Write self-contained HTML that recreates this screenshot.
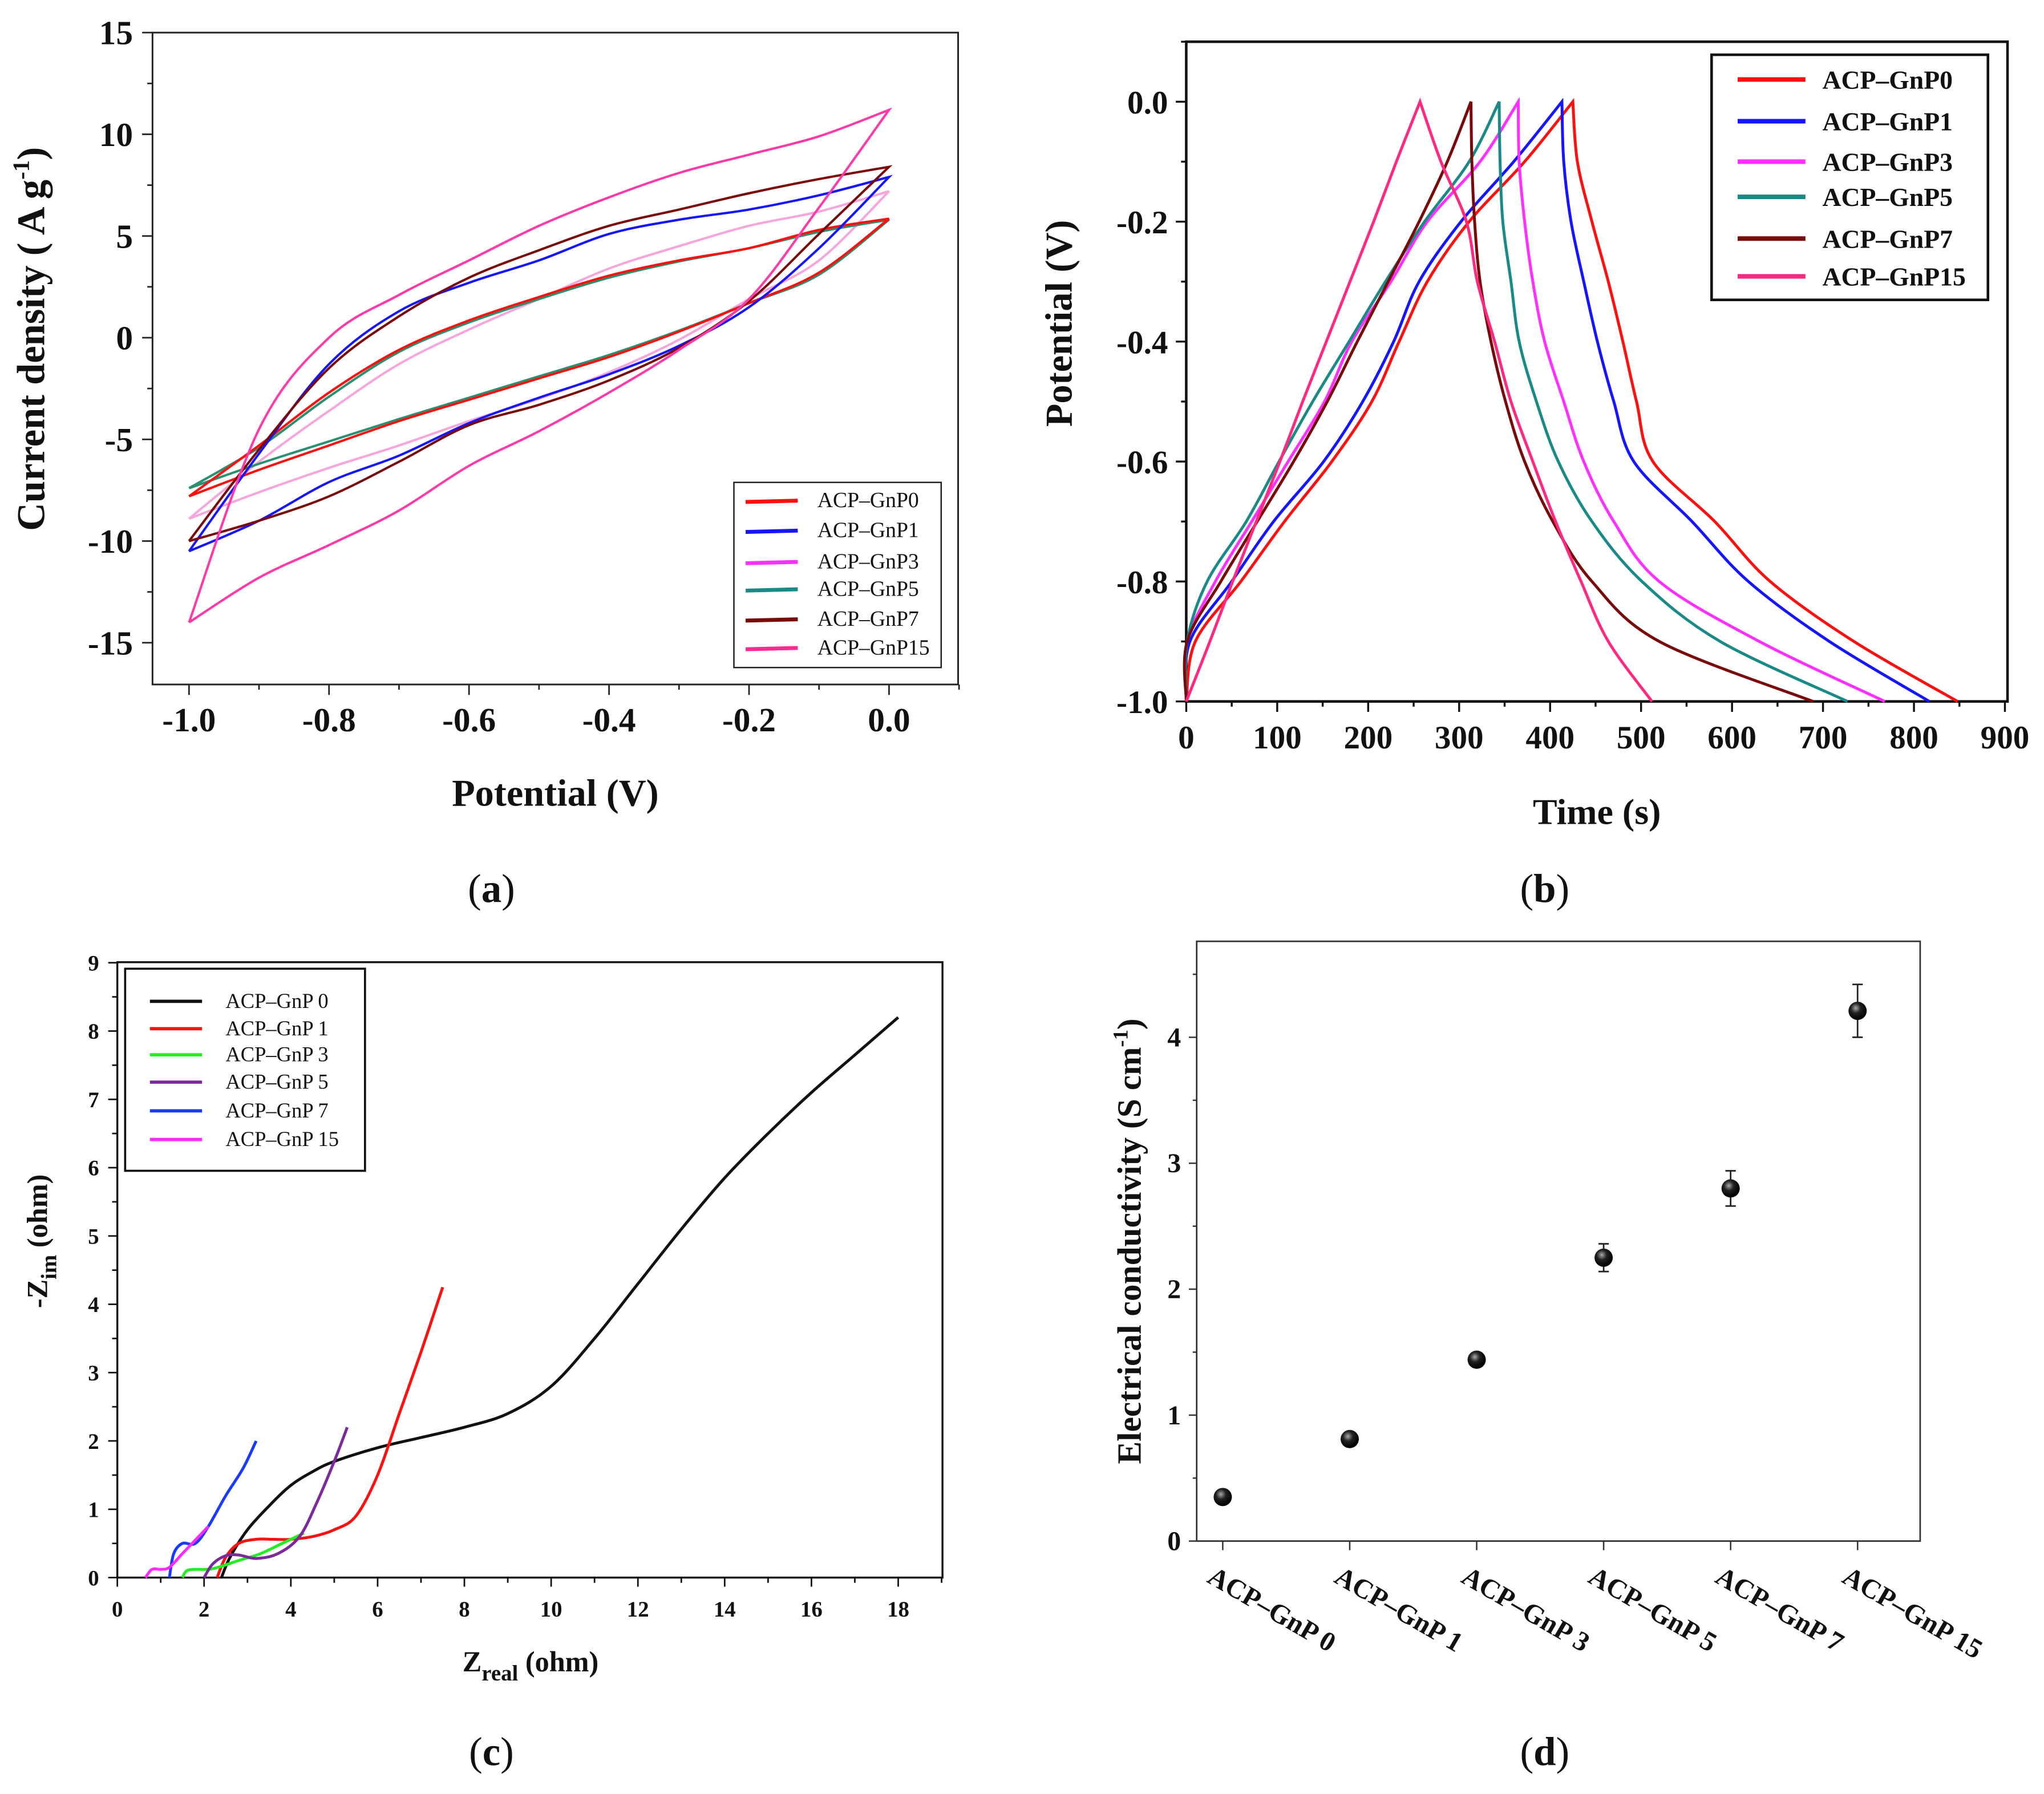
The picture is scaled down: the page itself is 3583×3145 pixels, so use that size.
<!DOCTYPE html>
<html><head><meta charset="utf-8"><style>
html,body{margin:0;padding:0;background:#fff}
svg{display:block}
text{font-family:"Liberation Serif",serif;fill:#111}
</style></head><body>
<svg id="fig" width="3583" height="3145" viewBox="0 0 1568 1376" preserveAspectRatio="none" xmlns="http://www.w3.org/2000/svg">
<rect width="1568" height="1376" fill="#fff"/>
<g id="pa"></g>
<g id="pb"></g>
<g id="pc"></g>
<g id="pd"></g>
<text x="377" y="692" font-size="31" text-anchor="middle">(<tspan font-weight="bold">a</tspan>)</text>
<text x="1185" y="692" font-size="31" text-anchor="middle">(<tspan font-weight="bold">b</tspan>)</text>
<text x="377" y="1354" font-size="31" text-anchor="middle">(<tspan font-weight="bold">c</tspan>)</text>
<text x="1185" y="1354" font-size="31" text-anchor="middle">(<tspan font-weight="bold">d</tspan>)</text>
</svg>
<script>
// ---------- Panel (a) CV data ----------
const cvPotential = [-1,-0.9,-0.8,-0.7,-0.6,-0.5,-0.4,-0.3,-0.2,-0.1,0];
const cvNames = ["ACP\u2013GnP0","ACP\u2013GnP1","ACP\u2013GnP3","ACP\u2013GnP5","ACP\u2013GnP7","ACP\u2013GnP15"];
const cvGnP0Up = [-7.8,-5.3,-2.7,-0.6,0.85,2.0,3.05,3.8,4.4,5.3,5.85];
const cvGnP0Down = [-7.8,-6.5,-5.3,-4.1,-3.05,-2.0,-0.95,0.3,1.7,3.2,5.85];
const cvGnP1Up = [-10.5,-5.7,-1.3,1.3,2.7,3.8,5.1,5.8,6.3,7.0,7.9];
const cvGnP1Down = [-10.5,-9.0,-7.1,-5.8,-4.2,-2.95,-1.8,-0.4,1.5,4.4,7.9];
const cvGnP3Up = [-8.9,-6.1,-3.6,-1.3,0.4,1.9,3.4,4.5,5.5,6.2,7.2];
const cvGnP3Down = [-8.9,-7.6,-6.4,-5.3,-4.1,-3.0,-1.7,-0.1,1.9,3.8,7.2];
const cvGnP5Up = [-7.4,-5.4,-2.9,-0.7,0.75,1.9,2.95,3.75,4.4,5.2,5.8];
const cvGnP5Down = [-7.4,-6.2,-5.1,-4.0,-2.95,-1.9,-0.85,0.35,1.7,3.1,5.8];
const cvGnP7Up = [-10,-5.5,-1.5,1.05,2.95,4.3,5.5,6.3,7.1,7.8,8.4];
const cvGnP7Down = [-10,-9.0,-7.8,-6.1,-4.3,-3.3,-2.1,-0.5,1.8,5.1,8.4];
const cvGnP15Up = [-14.0,-4.5,0.0,2.1,3.8,5.5,6.9,8.1,9.0,9.9,11.2];
const cvGnP15Down = [-14.0,-11.8,-10.2,-8.5,-6.3,-4.6,-2.7,-0.6,1.9,6.4,11.2];
const cvXTicks = [-1.0,-0.8,-0.6,-0.4,-0.2,0.0];
const cvYTicks = [15,10,5,0,-5,-10,-15];

// ---------- Panel (b) GCD data ----------
const gcdLevels = [-1,-0.9,-0.8,-0.7,-0.6,-0.5,-0.4,-0.3,-0.2,-0.1,0];
const gcdNames = ["ACP\u2013GnP0","ACP\u2013GnP1","ACP\u2013GnP3","ACP\u2013GnP5","ACP\u2013GnP7","ACP\u2013GnP15"];
const gcdGnP0Charge = [0,10,60,108,160,204,234,265,311,372,425];
const gcdGnP0Discharge = [848,734,642,581,513,495,480,464,446,430,425];
const gcdGnP1Charge = [0,4,50,96,151,194,228,256,302,360,413];
const gcdGnP1Discharge = [817,707,618,556,492,470,452,437,423,415,413];
const gcdGnP3Charge = [0,1,32,72,112,152,182,225,265,323,365];
const gcdGnP3Discharge = [768,630,520,470,437,415,394,381,372,366,365];
const gcdGnP5Charge = [0,1,23,66,102,139,179,219,262,311,344];
const gcdGnP5Discharge = [727,587,501,446,409,385,366,357,348,345,344];
const gcdGnP7Charge = [0,1,38,78,118,155,188,222,256,287,313];
const gcdGnP7Discharge = [689,520,446,403,372,351,335,323,317,314,313];
const gcdGnP15Charge = [0,26,51,77,103,128,154,180,206,231,257];
const gcdGnP15Discharge = [512,464,434,406,381,357,339,320,308,280,257];
const gcdXTicks = [0,100,200,300,400,500,600,700,800,900];
const gcdYTicks = [0.0,-0.2,-0.4,-0.6,-0.8,-1.0];

// ---------- Panel (c) EIS data ----------
const eisNames = ["ACP\u2013GnP 0","ACP\u2013GnP 1","ACP\u2013GnP 3","ACP\u2013GnP 5","ACP\u2013GnP 7","ACP\u2013GnP 15"];
const eis0Re = [2.4,2.6,3.0,3.5,4,4.5,5,6,7,8,9,10,11,12,13,14,15,16,17,18];
const eis0Im = [0,0.3,0.7,1.05,1.35,1.55,1.7,1.9,2.05,2.2,2.4,2.8,3.5,4.3,5.1,5.85,6.5,7.1,7.65,8.2];
const eis1Re = [2.3,2.5,2.8,3.2,3.6,4.0,4.5,5.0,5.5,6.0,6.5,7.0,7.5];
const eis1Im = [0,0.3,0.5,0.56,0.56,0.56,0.6,0.7,0.9,1.5,2.4,3.3,4.25];
const eis3Re = [1.5,1.6,1.8,2.2,2.8,3.3,3.8,4.3];
const eis3Im = [0,0.1,0.12,0.13,0.25,0.35,0.5,0.65];
const eis5Re = [2.0,2.2,2.5,2.8,3.2,3.7,4.2,4.6,5.0,5.3];
const eis5Im = [0,0.2,0.32,0.33,0.28,0.35,0.6,1.1,1.7,2.2];
const eis7Re = [1.2,1.3,1.5,1.8,2.1,2.5,2.9,3.2];
const eis7Im = [0,0.35,0.5,0.5,0.75,1.2,1.6,2.0];
const eis15Re = [0.65,0.8,1.0,1.2,1.5,1.8,2.1];
const eis15Im = [0,0.12,0.12,0.15,0.35,0.55,0.75];
const eisXTicks = [0,2,4,6,8,10,12,14,16,18];
const eisYTicks = [0,1,2,3,4,5,6,7,8,9];

// ---------- Panel (d) conductivity data ----------
const condCategories = ["ACP\u2013GnP 0","ACP\u2013GnP 1","ACP\u2013GnP 3","ACP\u2013GnP 5","ACP\u2013GnP 7","ACP\u2013GnP 15"];
const condValues = [0.35,0.81,1.44,2.25,2.8,4.21];
const condErrors = [0.03,0.03,0.04,0.11,0.14,0.21];
const condYTicks = [0,1,2,3,4];

const NS="http://www.w3.org/2000/svg";
function mk(parent,tag,attrs,txt){const e=document.createElementNS(NS,tag);for(const k in attrs)e.setAttribute(k,attrs[k]);if(txt!==undefined)e.textContent=txt;parent.appendChild(e);return e;}
function smooth(pts){let d="M"+pts[0][0].toFixed(2)+","+pts[0][1].toFixed(2);for(let i=0;i<pts.length-1;i++){const p0=pts[i-1]||pts[i],p1=pts[i],p2=pts[i+1],p3=pts[i+2]||p2;const c1=[p1[0]+(p2[0]-p0[0])/6,p1[1]+(p2[1]-p0[1])/6],c2=[p2[0]-(p3[0]-p1[0])/6,p2[1]-(p3[1]-p1[1])/6];d+="C"+c1[0].toFixed(2)+","+c1[1].toFixed(2)+" "+c2[0].toFixed(2)+","+c2[1].toFixed(2)+" "+p2[0].toFixed(2)+","+p2[1].toFixed(2);}return d;}

// ===== Panel A =====
(function(){
const g=document.getElementById('pa');
const sx=v=>682+(v-0)*537, sy=v=>259-v*15.6;
const box=mk(g,'rect',{x:117,y:25,width:618,height:500,fill:'none',stroke:'#222','stroke-width':1.3});

for(let v=-1.0;v<=0.101;v+=0.1){const x=sx(v);mk(g,'line',{x1:x,y1:525,x2:x,y2:Math.abs(Math.round(v*10)%2)===0?533:529,stroke:'#222','stroke-width':1.2});}
for(let v=-17.5;v<=15.01;v+=2.5){if(v<-17)continue;const y=sy(v);const major=Math.abs(v%5)<0.01;mk(g,'line',{x1:117,y1:y,x2:major?109:113,y2:y,stroke:'#222','stroke-width':1.2});}
cvXTicks.forEach(v=>{const t=mk(g,'text',{x:sx(v),y:561,'font-size':26,'font-weight':'bold','text-anchor':'middle'},v.toFixed(1));});
cvYTicks.forEach(v=>{const t=mk(g,'text',{x:102,y:sy(v)+9,'font-size':26,'font-weight':'bold','text-anchor':'end'},String(v));});
const yl=mk(g,'text',{x:0,y:0,'font-size':30,'font-weight':'bold','text-anchor':'middle',transform:'translate(34,260) rotate(-90)'});
yl.innerHTML='Current density ( A g<tspan dy="-12" font-size="18">-1</tspan><tspan dy="12">)</tspan>';

const xl=mk(g,'text',{x:426,y:618,'font-size':29,'font-weight':'bold','text-anchor':'middle'},'Potential (V)');

const series=[[cvGnP3Up,cvGnP3Down,'#f6a6da'],[cvGnP5Up,cvGnP5Down,'#2a9070'],[cvGnP0Up,cvGnP0Down,'#ff1010'],[cvGnP1Up,cvGnP1Down,'#1515ff'],[cvGnP7Up,cvGnP7Down,'#7a0a0a'],[cvGnP15Up,cvGnP15Down,'#ff3aa8']];
series.forEach((s,i)=>{const up=cvPotential.map((p,k)=>[sx(p),sy(s[0][k])]);const dn=cvPotential.map((p,k)=>[sx(p),sy(s[1][k])]);
const p=mk(g,'path',{d:smooth(up)+" "+smooth(dn.slice().reverse()).replace('M','L'),fill:'none',stroke:s[2],'stroke-width':1.8});
});
const lg=mk(g,'g',{});
mk(lg,'rect',{x:563,y:370,width:159,height:142,fill:'#fff',stroke:'#222','stroke-width':1.1});
const lc=['#ff1010','#1515ff','#ff30ff','#1a8a86','#7a0a0a','#ff2a90'];const ly=[384,407,431,452,475,497];
cvNames.forEach((n,i)=>{const e=mk(lg,'g',{});
mk(e,'line',{x1:572,y1:ly[i]+1,x2:612,y2:ly[i],stroke:lc[i],'stroke-width':3});mk(e,'text',{x:627,y:ly[i]+5,'font-size':16.5},n);});
})();

// ===== Panel B =====
(function(){
const g=document.getElementById('pb');
const sx=t=>910+t*0.6978, sy=v=>78-v*460;
const box=mk(g,'rect',{x:910,y:32,width:630,height:506,fill:'none',stroke:'#111','stroke-width':2});

for(let t=0;t<=900;t+=50){mk(g,'line',{x1:sx(t),y1:538,x2:sx(t),y2:t%100===0?546:542,stroke:'#111','stroke-width':1.5});}
for(let v=-1;v<=0.101;v+=0.1){const major=Math.abs(Math.round(v*10))%2===0;mk(g,'line',{x1:910,y1:sy(v),x2:major?902:906,y2:sy(v),stroke:'#111','stroke-width':1.5});}
gcdXTicks.forEach(t=>{const e=mk(g,'text',{x:sx(t),y:574,'font-size':25,'font-weight':'bold','text-anchor':'middle'},String(t));});
gcdYTicks.forEach(v=>{const e=mk(g,'text',{x:896,y:sy(v)+9,'font-size':25,'font-weight':'bold','text-anchor':'end'},v.toFixed(1));});
const yl=mk(g,'text',{x:0,y:0,'font-size':29,'font-weight':'bold','text-anchor':'middle',transform:'translate(822,248) rotate(-90)'},'Potential (V)');

const xl=mk(g,'text',{x:1225,y:632,'font-size':28,'font-weight':'bold','text-anchor':'middle'},'Time (s)');

const cols=['#ff1010','#1515ff','#ff30ff','#1a8a86','#7a0a0a','#ff2a80'];
const ser=[[gcdGnP0Charge,gcdGnP0Discharge],[gcdGnP1Charge,gcdGnP1Discharge],[gcdGnP3Charge,gcdGnP3Discharge],[gcdGnP5Charge,gcdGnP5Discharge],[gcdGnP7Charge,gcdGnP7Discharge],[gcdGnP15Charge,gcdGnP15Discharge]];
ser.forEach((s,i)=>{const ch=gcdLevels.map((v,k)=>[sx(s[0][k]),sy(v)]);const dc=gcdLevels.map((v,k)=>[sx(s[1][k]),sy(v)]).reverse();
const p=mk(g,'path',{d:smooth(ch)+" "+smooth(dc).replace('M','L'),fill:'none',stroke:cols[i],'stroke-width':2.2});
});
const lg=mk(g,'g',{});
mk(lg,'rect',{x:1313,y:42,width:212,height:188,fill:'#fff',stroke:'#111','stroke-width':2});
const ly=[61,93,124,151,183,212];
gcdNames.forEach((n,i)=>{const e=mk(lg,'g',{});
mk(e,'line',{x1:1333,y1:ly[i],x2:1385,y2:ly[i],stroke:cols[i],'stroke-width':3.5});mk(e,'text',{x:1398,y:ly[i]+7,'font-size':20,'font-weight':'bold'},n);});
})();

// ===== Panel C =====
(function(){
const g=document.getElementById('pc');
const sx=v=>90+v*33.28, sy=v=>1210-v*52.4;
const box=mk(g,'rect',{x:90,y:738,width:633,height:472,fill:'none',stroke:'#111','stroke-width':1.5});

for(let v=0;v<=19;v+=1){mk(g,'line',{x1:sx(v),y1:1210,x2:sx(v),y2:v%2===0?1217:1214,stroke:'#111','stroke-width':1.2});}
for(let v=0;v<=9;v+=0.5){mk(g,'line',{x1:90,y1:sy(v),x2:v%1===0?83:86,y2:sy(v),stroke:'#111','stroke-width':1.2});}
eisXTicks.forEach(v=>{const e=mk(g,'text',{x:sx(v),y:1240,'font-size':17,'font-weight':'bold','text-anchor':'middle'},String(v));});
eisYTicks.forEach(v=>{const e=mk(g,'text',{x:76,y:sy(v)+6,'font-size':17,'font-weight':'bold','text-anchor':'end'},String(v));});
const yl=mk(g,'text',{x:0,y:0,'font-size':22,'font-weight':'bold','text-anchor':'middle',transform:'translate(36,952) rotate(-90)'});
yl.innerHTML='-Z<tspan dy="7" font-size="17">im</tspan><tspan dy="-7"> (ohm)</tspan>';

const xl=mk(g,'text',{x:407,y:1282,'font-size':22,'font-weight':'bold','text-anchor':'middle'});
xl.innerHTML='Z<tspan dy="7" font-size="17">real</tspan><tspan dy="-7"> (ohm)</tspan>';

const cols=['#111','#ff1010','#22ee22','#7a2a9a','#1a3aff','#ff2aff'];
const ser=[[eis0Re,eis0Im],[eis1Re,eis1Im],[eis3Re,eis3Im],[eis5Re,eis5Im],[eis7Re,eis7Im],[eis15Re,eis15Im]];
ser.forEach((s,i)=>{const pts=s[0].map((x,k)=>[sx(x),sy(s[1][k])]);
const p=mk(g,'path',{d:smooth(pts),fill:'none',stroke:cols[i],'stroke-width':2.2});
});
const lg=mk(g,'g',{});
mk(lg,'rect',{x:96,y:743,width:184,height:155,fill:'#fff',stroke:'#111','stroke-width':1.6});
const ly=[768,789,809,830,852,874];
eisNames.forEach((n,i)=>{const e=mk(lg,'g',{});
mk(e,'line',{x1:115,y1:ly[i],x2:155,y2:ly[i],stroke:cols[i],'stroke-width':2.5});mk(e,'text',{x:173,y:ly[i]+5,'font-size':16},n);});
})();

// ===== Panel D =====
(function(){
const g=document.getElementById('pd');
const sy=v=>1182-v*96.6, sx=i=>938+i*97.4;
const box=mk(g,'rect',{x:918,y:722,width:555,height:460,fill:'none',stroke:'#333','stroke-width':1.2});

for(let v=0;v<=4.5;v+=0.5){mk(g,'line',{x1:918,y1:sy(v),x2:v%1===0?912:915,y2:sy(v),stroke:'#333','stroke-width':1.1});}
condCategories.forEach((c,i)=>{mk(g,'line',{x1:sx(i),y1:1182,x2:sx(i),y2:1189,stroke:'#333','stroke-width':1.1});
const t=mk(g,'text',{x:0,y:0,'font-size':21,'font-weight':'bold',transform:'translate('+(sx(i)-13)+',1213) rotate(30)'},c);
});
condYTicks.forEach(v=>{const e=mk(g,'text',{x:906,y:sy(v)+7,'font-size':21,'font-weight':'bold','text-anchor':'end'},String(v));});
const yl=mk(g,'text',{x:0,y:0,'font-size':26,'font-weight':'bold','text-anchor':'middle',transform:'translate(875,952) rotate(-90)'});
yl.innerHTML='Electrical conductivity (S cm<tspan dy="-10" font-size="16">-1</tspan><tspan dy="10">)</tspan>';

mk(g,'defs',{}).innerHTML='<radialGradient id="ball" cx="0.4" cy="0.35" r="0.6"><stop offset="0" stop-color="#aaa"/><stop offset="0.45" stop-color="#222"/><stop offset="1" stop-color="#000"/></radialGradient>';
condValues.forEach((v,i)=>{const x=sx(i),e=condErrors[i];
const eb=mk(g,'path',{d:'M'+x+','+sy(v-e)+'V'+sy(v+e)+'M'+(x-4)+','+sy(v-e)+'h8M'+(x-4)+','+sy(v+e)+'h8',stroke:'#222','stroke-width':1.2,fill:'none'});

const c=mk(g,'circle',{cx:x,cy:sy(v),r:7,fill:'url(#ball)'});
});
})();
</script>
</body></html>
